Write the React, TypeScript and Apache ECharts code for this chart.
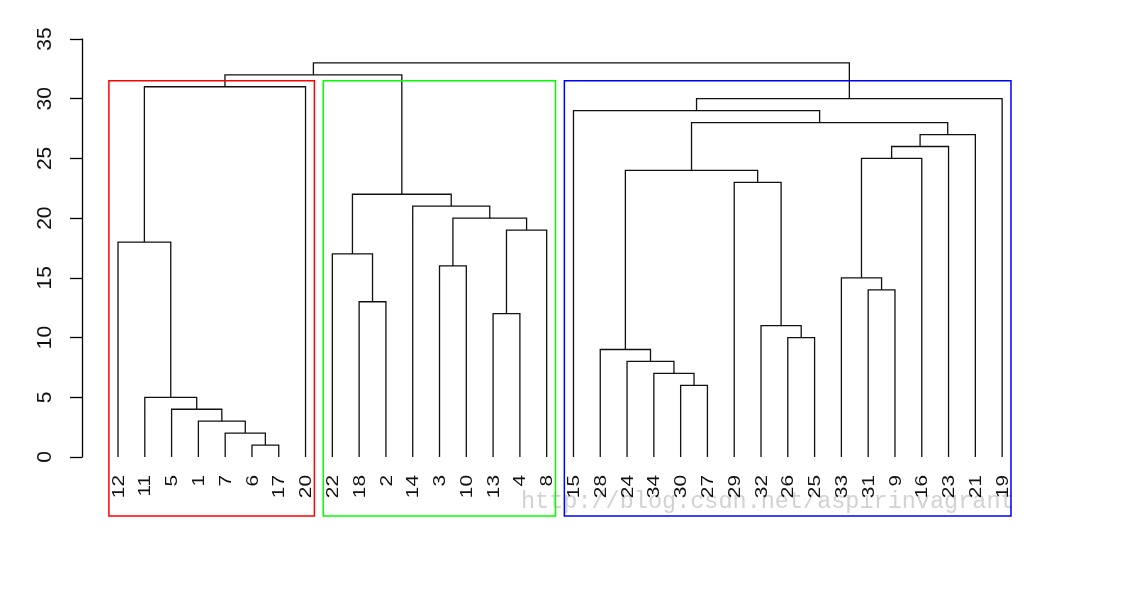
import React, { useEffect, useRef } from "react";
import * as echarts from "echarts";

// leaf order as drawn (left to right)
const leafOrder = [12, 11, 5, 1, 7, 6, 17, 20, 22, 18, 2, 14, 3, 10, 13, 4, 8, 15, 28, 24, 34, 30, 27, 29, 32, 26, 25, 33, 31, 9, 16, 23, 21, 19];

// hclust-style merge matrix: negative = leaf label, positive = earlier merge step (1-based)
const mergeA = [-6, -7, -1, -5, -11, -30, -34, -24, -28, -26, -32, -13, -18, -31, -33, -3, -22, -12, -8, 16, -14, 17, -29, 9, 15, 25, 26, 24, -15, 29, 18, 31, 32];
const mergeB = [-17, 1, 2, 3, 4, -27, 6, 7, 8, -25, 10, -4, -2, -9, 14, -10, 13, 5, 12, 19, 20, 21, 11, 23, -16, -23, -21, 27, 28, -19, -20, 22, 30];
const mergeHeight = [1, 2, 3, 4, 5, 6, 7, 8, 9, 10, 11, 12, 13, 14, 15, 16, 17, 18, 19, 20, 21, 22, 23, 24, 25, 26, 27, 28, 29, 30, 31, 32, 33];

// rect.hclust(k = 3) clusters: first and last leaf index, colour
const clusterStart = [0, 8, 17];
const clusterEnd = [7, 16, 33];
const clusterColor = ["#ff0000", "#00ff00", "#0000ff"];

function buildSegments() {
  const nodeX: number[] = [];
  const nodeH: number[] = [];
  const ref = (v: number) => {
    if (v < 0) return [leafOrder.indexOf(-v), 0];
    return [nodeX[v - 1], nodeH[v - 1]];
  };
  const segs: number[][] = [];
  for (let i = 0; i < mergeA.length; i++) {
    const [xa, ha] = ref(mergeA[i]);
    const [xb, hb] = ref(mergeB[i]);
    const h = mergeHeight[i];
    segs.push([xa, ha, xb, hb, h]);
    nodeX.push((xa + xb) / 2);
    nodeH.push(h);
  }
  return segs;
}

export default function App() {
  const ref = useRef<HTMLDivElement>(null);
  useEffect(() => {
    if (!ref.current) return;
    document.body.style.margin = "0";
    const chart = echarts.init(ref.current, null, { renderer: "svg" });
    const segs = buildSegments();
    const sortedH = [...mergeHeight].sort((a, b) => b - a);
    const k = clusterStart.length;
    const boxTop = (sortedH[k - 2] + sortedH[k - 1]) / 2;
    const boxBottom = -4.94;
    const boxes = clusterStart.map((s, i) => [s, clusterEnd[i], boxTop, i]);

    chart.setOption({
      animation: false,
      grid: { left: 82, right: 101, top: 39, bottom: 139 },
      xAxis: { type: "value", min: -1.344, max: 34.04, show: false },
      yAxis: {
        type: "value",
        min: 0,
        max: 35,
        interval: 5,
        splitLine: { show: false },
        axisLine: { show: true, onZero: false, lineStyle: { color: "#000", width: 1.3 } },
        axisTick: { show: true, length: 12, lineStyle: { color: "#000", width: 1.3 } },
        axisLabel: {
          rotate: 90,
          margin: 28,
          fontSize: 21,
          fontFamily: "Liberation Sans",
          color: "#111",
        },
      },
      series: [
        {
          type: "custom",
          clip: false,
          data: segs,
          encode: { x: [0, 2], y: [1, 4] },
          renderItem: (params: any, api: any) => {
            const xa = api.value(0), ha = api.value(1), xb = api.value(2), hb = api.value(3), h = api.value(4);
            return {
              type: "polyline",
              shape: {
                points: [api.coord([xa, ha]), api.coord([xa, h]), api.coord([xb, h]), api.coord([xb, hb])],
              },
              style: { stroke: "#111", lineWidth: 1.3, fill: null },
            };
          },
        },
        {
          type: "custom",
          clip: false,
          data: leafOrder.map((l, i) => [i, 0, l]),
          renderItem: (params: any, api: any) => {
            const p = api.coord([api.value(0), 0]);
            return {
              type: "text",
              x: p[0],
              y: p[1] + 18,
              rotation: Math.PI / 2,
              scaleX: 1.3,
              style: {
                text: String(api.value(2)),
                fontSize: 16,
                fontFamily: "Liberation Sans",
                fill: "#111",
                align: "right",
                verticalAlign: "middle",
              },
            };
          },
        },
        {
          type: "custom",
          clip: false,
          data: boxes,
          renderItem: (params: any, api: any) => {
            const s = api.value(0), e = api.value(1), t = api.value(2), ci = api.value(3);
            const p1 = api.coord([s - 0.34, t]);
            const p2 = api.coord([e + 0.33, boxBottom]);
            return {
              type: "rect",
              shape: { x: p1[0], y: p1[1], width: p2[0] - p1[0], height: p2[1] - p1[1] },
              style: { stroke: clusterColor[ci], lineWidth: 1.5, fill: null },
            };
          },
        },
      ],
      graphic: [
        {
          type: "text",
          left: 521,
          top: 489,
          silent: true,
          style: {
            text: "http://blog.csdn.net/aspirinvagrant",
            fontSize: 23.5,
            fontFamily: "Liberation Mono",
            fill: "rgba(180,180,180,0.6)",
          },
        },
      ],
    });
    return () => chart.dispose();
  }, []);
  return <div ref={ref} style={{ position: "fixed", left: 0, top: 0, width: 1131, height: 596 }} />;
}
